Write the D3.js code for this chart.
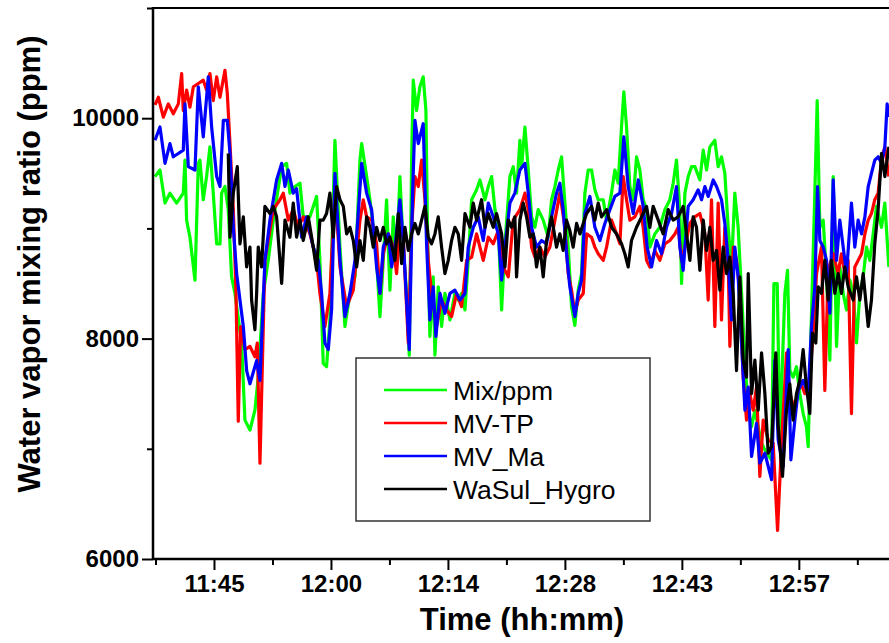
<!DOCTYPE html>
<html>
<head>
<meta charset="utf-8">
<script src="https://cdn.jsdelivr.net/npm/d3@7"></script>
<style>
body { margin: 0; background: #fff; }
text { font-family: 'Liberation Sans', Arial, sans-serif; }
</style>
</head>
<body>
<div id="svg"></div>
<script>
// time in minutes after 11:00, values in ppm
let mixPpm = [[38.34,9470],[38.95,9530],[39.57,9230],[40.18,9320],[41.0,9230],[41.82,9320],[42.03,9620],[42.23,9075],[42.64,8920],[43.26,8530],[43.67,9590],[43.87,9620],[44.28,9260],[44.69,9470],[45.1,9740],[45.51,9320],[45.93,8860],[46.34,8860],[46.54,9320],[46.95,9380],[47.36,9170],[47.77,8560],[48.18,8410],[49.0,7960],[49.41,7260],[50.03,7170],[50.64,7350],[51.05,7650],[51.67,8410],[52.28,8710],[52.9,9075],[53.93,9560],[54.54,9590],[54.95,9320],[55.57,9380],[56.18,9410],[56.59,9105],[57.41,9105],[58.23,9290],[58.64,8710],[59.05,7775],[59.46,7745],[59.87,8170],[60.49,9800],[61.11,8830],[61.72,8110],[62.34,8410],[62.96,8560],[63.57,9620],[63.78,9770],[64.39,9470],[64.8,9260],[65.21,9010],[65.62,8710],[66.03,8200],[66.44,8710],[66.85,9260],[67.26,8440],[67.67,9105],[68.08,8710],[68.49,9470],[68.9,8830],[69.31,8410],[69.64,7850],[69.93,9620],[70.13,10345],[70.54,10070],[70.95,10285],[71.36,10375],[71.69,10070],[71.9,8920],[72.18,8020],[72.59,8560],[72.8,7850],[73.21,8470],[73.62,8110],[74.03,8410],[74.65,8170],[75.26,8410],[75.67,8350],[76.08,8410],[76.5,8260],[76.9,8710],[77.32,9260],[77.93,9350],[78.34,9440],[78.96,9260],[79.37,9380],[79.78,9470],[80.19,9170],[80.6,9010],[81.01,8260],[81.42,8860],[82.03,9470],[82.44,9560],[82.85,9320],[83.26,9800],[83.47,9560],[83.88,9920],[84.29,9530],[84.7,9105],[85.11,9010],[85.52,9170],[86.13,9075],[86.75,8920],[87.16,9260],[87.57,9380],[87.98,9530],[88.39,9650],[88.8,9230],[89.21,8830],[89.62,8290],[90.03,8120],[90.44,8440],[90.85,8590],[91.26,9320],[91.67,9530],[92.08,9530],[92.49,9350],[92.9,9260],[93.52,9260],[93.93,9075],[94.54,9320],[94.95,9530],[95.36,9410],[95.77,9920],[96.06,10240],[96.39,9920],[96.8,9380],[97.21,9260],[97.62,9650],[98.03,9530],[98.44,9260],[98.85,9170],[99.26,8830],[99.88,8950],[100.49,9010],[101.11,9170],[101.72,9260],[102.13,9410],[102.54,9620],[102.95,9170],[103.16,8500],[103.57,9320],[103.98,9470],[104.39,9560],[104.8,9560],[105.42,9440],[105.83,9710],[106.24,9530],[106.65,9740],[107.26,9800],[107.67,9560],[108.08,9650],[108.49,9500],[108.9,9010],[109.31,8650],[109.72,9320],[110.13,9010],[110.55,8410],[110.96,7805],[111.37,7350],[111.78,7200],[112.19,7350],[112.6,7200],[113.01,7050],[113.62,6960],[114.24,6900],[114.53,8500],[114.94,8500],[115.26,7110],[115.88,8410],[116.21,8620],[116.49,7710],[116.9,7650],[117.31,7745],[117.72,7500],[118.13,7320],[118.54,7200],[118.75,7020],[119.16,8230],[119.57,9320],[119.86,10160],[120.19,9010],[120.6,9075],[121.01,8560],[121.42,7805],[121.83,9470],[122.24,7930],[122.65,8650],[123.06,8410],[123.47,8260],[123.88,8530],[124.29,8410],[124.7,7960],[125.11,8410],[125.52,8560],[125.93,8830],[126.34,8710],[126.75,8950],[127.16,9200],[127.78,9010],[128.19,9230],[128.68,8650]]

let mvTp = [[38.34,10120],[38.75,10190],[39.36,10010],[39.98,10130],[40.59,10040],[41.21,10130],[41.62,10405],[41.82,10070],[42.23,10255],[42.64,10100],[43.06,10285],[43.67,10315],[44.28,10345],[44.69,10255],[45.1,10405],[45.51,10160],[45.93,10375],[46.34,10190],[46.95,10435],[47.24,10225],[47.57,9770],[47.98,9170],[48.31,8410],[48.59,7250],[48.88,8110],[49.41,7900],[50.03,7930],[50.64,7835],[50.93,7960],[51.26,6870],[51.67,8110],[51.87,8710],[52.9,9170],[53.72,9260],[54.13,9320],[54.75,9075],[55.36,9170],[55.98,9010],[56.59,9105],[57.41,8950],[58.23,8710],[58.64,8410],[59.26,8110],[59.87,8410],[60.49,9380],[61.11,8650],[61.93,8290],[62.75,8440],[63.57,9075],[63.98,9260],[64.39,9105],[65.01,9075],[65.62,8860],[66.03,8410],[66.44,8770],[67.06,8950],[67.67,8830],[68.08,8590],[68.49,9010],[68.9,8920],[69.52,7960],[69.93,9010],[70.34,9470],[70.75,9380],[71.16,9620],[71.57,9260],[71.98,8710],[72.39,8410],[73.0,8110],[73.62,8350],[74.24,8260],[74.85,8200],[75.47,8410],[76.08,8290],[76.7,8710],[77.32,8740],[77.93,8950],[78.75,8710],[79.37,8920],[79.98,8860],[80.6,8980],[81.21,8650],[81.83,8560],[82.44,9075],[83.26,9170],[83.88,9320],[84.29,9170],[84.7,8830],[85.11,8740],[85.72,8830],[86.34,8740],[86.95,8830],[87.57,9075],[88.18,9320],[88.8,9010],[89.21,8590],[89.62,8440],[90.03,8230],[90.44,8350],[91.06,8410],[91.47,8950],[92.08,8920],[92.49,8830],[92.9,8770],[93.52,8710],[93.93,8830],[94.54,9075],[95.16,8950],[95.57,8860],[95.98,9470],[96.39,9260],[96.8,9075],[97.41,9105],[98.03,9200],[98.44,9010],[98.85,8710],[99.26,8650],[99.88,8800],[100.49,8710],[101.11,8860],[101.72,8890],[102.34,8950],[102.75,9010],[103.16,8710],[103.57,8830],[104.19,9045],[104.8,9105],[105.42,9135],[106.03,8950],[106.44,8350],[106.85,9260],[107.26,8110],[107.67,9230],[108.08,8170],[108.49,9010],[108.9,8710],[109.11,7930],[109.52,8830],[109.93,8710],[110.34,8410],[110.75,7650],[111.16,7260],[111.57,7500],[111.98,7350],[112.39,7560],[112.8,6750],[113.21,7260],[113.83,7080],[114.44,7050],[114.98,6260],[115.47,7050],[116.08,7870],[116.49,7500],[117.11,7350],[117.72,7620],[118.34,7500],[118.95,7650],[119.36,8050],[119.78,8590],[120.39,8830],[120.8,7530],[121.21,8620],[121.83,8770],[122.44,8590],[122.85,8770],[123.26,8590],[123.67,8710],[124.08,7320],[124.49,8650],[124.9,8710],[125.32,8770],[125.73,8950],[126.14,9075],[126.54,9135],[126.95,9260],[127.36,9320],[127.78,9620],[128.19,9740],[128.68,9470]]

let mvMa = [[38.34,9800],[38.95,9920],[39.57,9590],[40.18,9770],[40.59,9650],[41.21,9680],[41.82,9710],[42.03,10130],[42.44,9560],[43.26,9530],[43.67,10285],[44.28,9830],[44.9,10375],[45.31,9920],[45.93,9470],[46.34,9380],[46.75,9980],[47.24,9980],[47.57,9680],[47.98,9010],[48.39,8590],[49.21,8110],[49.62,7710],[50.03,7590],[50.85,7800],[51.26,7620],[51.87,8710],[52.49,9075],[53.31,9440],[53.93,9590],[54.34,9380],[54.75,9530],[55.36,9320],[55.77,9360],[56.39,8920],[57.0,9105],[57.82,8830],[58.44,8710],[58.85,8410],[59.26,7960],[59.67,7900],[60.08,8260],[60.49,9500],[61.11,8710],[61.72,8200],[62.34,8410],[62.96,8710],[63.78,9590],[64.39,9320],[65.01,9170],[65.62,8650],[66.03,8410],[66.44,8830],[67.06,8950],[67.47,8650],[67.88,8830],[68.49,9260],[68.9,8890],[69.64,7900],[70.05,9320],[70.34,9980],[70.75,9770],[71.36,9950],[71.77,8860],[72.18,8170],[72.59,8470],[72.92,8020],[73.42,8410],[74.03,8230],[74.65,8410],[75.26,8440],[75.88,8350],[76.5,8410],[76.9,8830],[77.52,9010],[78.13,9105],[78.75,8890],[79.37,9230],[79.98,9105],[80.6,8950],[81.01,8530],[81.42,8830],[82.03,9230],[82.64,9320],[83.26,9530],[83.88,9590],[84.29,9320],[84.7,9010],[85.31,8830],[85.93,8890],[86.54,8860],[87.16,9105],[87.77,9320],[88.18,9410],[88.59,9170],[89.0,8770],[89.41,8470],[90.03,8200],[90.44,8410],[90.85,8530],[91.26,9135],[91.88,9290],[92.49,9010],[93.11,8890],[93.72,9045],[94.34,9170],[94.95,9290],[95.57,9320],[96.06,9830],[96.59,9380],[97.21,9135],[97.83,9440],[98.44,9200],[98.93,8830],[99.47,8650],[100.08,8890],[100.7,8770],[101.31,9010],[101.93,9135],[102.54,9380],[102.95,8830],[103.36,8620],[103.98,9200],[104.59,9260],[105.21,9350],[105.62,9260],[106.03,9380],[106.44,9290],[107.06,9440],[107.47,9380],[108.08,9260],[108.49,9045],[108.9,8710],[109.31,8170],[109.72,8830],[110.13,8560],[110.55,7960],[110.96,7350],[111.37,7560],[111.78,6930],[112.39,7230],[112.8,6870],[113.42,6960],[113.83,6840],[114.24,6720],[114.65,7805],[115.06,7080],[115.67,6840],[116.29,7900],[116.62,6900],[117.11,7260],[117.52,7530],[118.13,7620],[118.75,7500],[119.16,8110],[119.57,8470],[119.9,9380],[120.19,8890],[120.6,8830],[121.01,8710],[121.42,8230],[121.83,9440],[122.24,8710],[122.65,9075],[123.06,8830],[123.47,8590],[124.08,9230],[124.49,8830],[124.9,9075],[125.32,8950],[125.73,9105],[126.14,9380],[126.54,9500],[126.95,9620],[127.36,9650],[127.78,9590],[128.19,9740],[128.47,10130],[128.68,10010]]

let waSulHygro = [[47.36,9680],[47.57,8920],[47.98,9320],[48.47,9560],[48.8,8860],[49.21,9105],[49.62,8650],[50.03,8830],[50.23,8350],[50.64,8080],[50.85,8410],[51.05,8830],[51.46,8650],[51.87,9200],[52.49,9135],[52.9,9200],[53.31,9105],[53.93,8500],[54.34,9075],[54.95,8920],[55.36,9230],[55.77,8920],[56.18,9075],[56.59,8890],[57.21,9105],[57.82,8830],[58.23,8620],[58.64,9075],[59.05,9075],[59.46,9135],[59.87,9320],[60.28,8920],[60.69,9380],[61.11,9260],[61.52,9200],[61.93,8950],[62.34,9010],[62.75,8890],[63.16,8650],[63.57,8890],[63.98,8710],[64.39,9105],[64.8,9010],[65.21,8830],[65.62,9010],[66.03,8890],[66.44,9010],[66.85,8860],[67.26,8920],[67.88,8710],[68.29,9135],[68.7,8680],[69.11,9010],[69.52,8800],[69.93,8950],[70.34,9045],[70.75,8950],[71.16,9075],[71.57,9200],[71.98,8920],[72.39,8860],[72.8,8950],[73.21,9105],[73.62,8830],[74.03,8590],[74.44,8710],[74.85,8890],[75.26,9010],[75.67,8950],[76.08,8710],[76.5,9135],[77.11,9010],[77.52,9230],[77.93,9075],[78.54,9260],[78.96,9010],[79.37,9135],[79.98,9010],[80.39,9135],[81.01,8950],[81.42,8650],[81.83,9075],[82.24,9010],[82.64,9105],[82.85,8560],[83.26,9075],[83.67,9230],[84.08,9105],[84.49,8920],[84.9,8950],[85.31,8650],[85.72,8830],[86.13,8560],[86.54,8890],[87.16,9105],[87.77,8830],[88.18,8950],[88.59,8800],[89.0,9075],[89.41,8980],[89.82,8830],[90.24,9045],[90.65,8950],[91.06,9045],[91.47,9135],[92.08,9200],[92.49,9075],[92.9,9230],[93.31,9105],[93.93,9170],[94.54,9010],[95.16,8950],[95.77,8860],[96.18,8770],[96.59,8650],[97.0,8890],[97.62,9010],[98.24,9105],[98.85,9200],[99.26,9010],[99.67,9200],[100.29,9075],[100.9,8950],[101.52,9170],[102.13,9075],[102.75,9105],[103.36,9200],[103.77,8950],[104.19,8710],[104.59,9105],[105.0,9010],[105.42,8620],[105.83,9075],[106.24,8800],[106.65,9010],[107.06,8710],[107.47,8800],[107.88,8440],[108.29,8830],[108.7,8590],[109.11,8740],[109.52,8410],[109.93,7710],[110.34,8560],[110.75,7805],[111.16,7650],[111.37,8590],[111.78,7500],[112.19,7805],[112.6,7350],[113.01,7870],[113.42,7500],[113.83,6960],[114.24,7020],[114.77,7870],[115.06,7200],[115.59,6750],[116.08,7350],[116.49,7590],[116.9,7260],[117.31,7500],[117.72,7620],[118.13,7900],[118.54,7560],[118.95,7320],[119.28,8050],[119.69,7960],[119.98,8470],[120.39,8410],[120.8,8710],[121.21,8350],[121.62,8710],[122.03,8410],[122.44,8590],[122.85,8410],[123.26,8650],[123.67,8470],[124.29,8350],[124.7,8560],[125.11,8350],[125.52,8590],[126.14,8110],[126.54,8350],[126.95,8860],[127.36,9170],[127.78,9680],[128.19,9470],[128.68,9740]]

let seriesNames = ['Mix/ppm', 'MV-TP', 'MV_Ma', 'WaSul_Hygro']
let seriesColors = ['#00ff00', '#ff0000', '#0000ff', '#000000']

// x ticks: every 0.01 day (14.4 min), labelled hh:mm
let tickMinutes = [45.6, 60, 74.4, 88.8, 103.2, 117.6]
let tickLabels = ['11:45', '12:00', '12:14', '12:28', '12:43', '12:57']
let minorMinutes = [38.4, 52.8, 67.2, 81.6, 96, 110.4, 124.8]
let yTicks = [6000, 8000, 10000]
let yMinor = [7000, 9000, 11000]

let width = 889, height = 643
let plot = {left: 153, top: 8, bottom: 559}

let svg = d3.select('#svg')
.append('svg')
.attr('width', width)
.attr('height', height)

let xScale = d3.scaleLinear()
.domain([38.4, 128.7])
.range([155.5, 889])

let yScale = d3.scaleLinear()
.domain([6000, 11000])
.range([plot.bottom, plot.top])

svg.append('clipPath')
.attr('id', 'clip')
.append('rect')
.attr('x', plot.left)
.attr('y', 0)
.attr('width', width - plot.left)
.attr('height', plot.bottom + 2)

let line = d3.line()
.x(d => xScale(d[0]))
.y(d => yScale(d[1]))

let allSeries = [mixPpm, mvTp, mvMa, waSulHygro]

svg.append('g')
.attr('clip-path', 'url(#clip)')
.selectAll('.series')
.data(allSeries)
.join('path')
.attr('class', 'series')
.attr('d', line)
.style('fill', 'none')
.style('stroke', (d, i) => seriesColors[i])
.style('stroke-width', 3.2)
.style('stroke-linejoin', 'round')

// frame top
svg.append('line')
.attr('x1', plot.left).attr('x2', width)
.attr('y1', plot.top).attr('y2', plot.top)
.style('stroke', '#000').style('stroke-width', 2)

// axes
let xAxis = svg.append('g')
.attr('transform', `translate(0, ${plot.bottom})`)
.call(d3.axisBottom(xScale).tickValues(tickMinutes).tickSize(11).tickSizeOuter(0)
	.tickFormat((d, i) => tickLabels[i]))
xAxis.append('g')
.call(d3.axisBottom(xScale).tickValues(minorMinutes).tickSize(6).tickFormat(''))

let yAxis = svg.append('g')
.attr('transform', `translate(${plot.left}, 0)`)
.call(d3.axisLeft(yScale).tickValues(yTicks).tickSize(11).tickSizeOuter(0)
	.tickFormat(d3.format('d')))
yAxis.append('g')
.call(d3.axisLeft(yScale).tickValues(yMinor).tickSize(6).tickFormat(''))

svg.selectAll('.domain')
.attr('d', null)
svg.append('line')
.attr('x1', plot.left).attr('x2', width)
.attr('y1', plot.bottom).attr('y2', plot.bottom)
.style('stroke', '#000').style('stroke-width', 2.5)
svg.append('line')
.attr('x1', plot.left).attr('x2', plot.left)
.attr('y1', plot.top - 1).attr('y2', plot.bottom + 1)
.style('stroke', '#000').style('stroke-width', 2.5)

svg.selectAll('.tick line')
.style('stroke', '#000')
.style('stroke-width', 2)

xAxis.selectAll('text')
.attr('y', 16)
.style('font-size', '24px')
.style('font-weight', 'bold')
.style('fill', '#000')

yAxis.selectAll('text')
.attr('x', -14)
.style('font-size', '24px')
.style('font-weight', 'bold')
.style('fill', '#000')

svg.append('text')
.text('Time (hh:mm)')
.attr('x', 522)
.attr('y', 630)
.style('text-anchor', 'middle')
.style('font-size', '31px')
.style('font-weight', 'bold')

svg.append('text')
.text('Water vapor mixing ratio (ppm)')
.attr('transform', 'translate(40, 264)rotate(-90)')
.style('text-anchor', 'middle')
.style('font-size', '31px')
.style('font-weight', 'bold')

// legend
let legend = svg.append('g')
.attr('transform', 'translate(356, 358)')

legend.append('rect')
.attr('width', 294)
.attr('height', 163)
.style('fill', '#fff')
.style('stroke', '#333')
.style('stroke-width', 1.5)

let rows = legend.selectAll('.row')
.data(seriesNames)
.join('g')
.attr('class', 'row')
.attr('transform', (d, i) => `translate(0, ${32 + i * 33})`)

rows.append('line')
.attr('x1', 28).attr('x2', 91)
.style('stroke', (d, i) => seriesColors[i])
.style('stroke-width', 2.5)

rows.append('text')
.text(d => d)
.attr('x', 97)
.attr('y', 9.5)
.style('font-size', '26.5px')
</script>
</body>
</html>
